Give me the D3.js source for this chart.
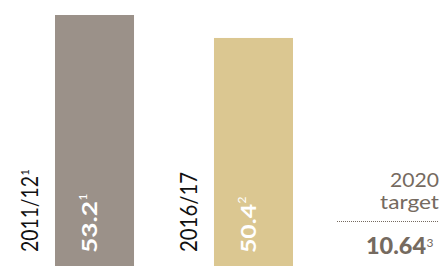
<!DOCTYPE html>
<html><head><meta charset="utf-8">
<script src="https://cdn.jsdelivr.net/npm/d3@7"></script>
<style>
html,body{margin:0;padding:0;background:#fff;}
svg{display:block;}
</style></head>
<body>
<svg id="c" width="443" height="266"></svg>
<script>
// Data
const categories = ["2011/12", "2016/17"];
const values = [53.2, 50.4];
const valueNotes = ["1", "2"];
const categoryNotes = ["1", ""];
const targetLabel = ["2020", "target"];
const targetValue = 10.64;
const targetNote = "3";

const colors = ["#9b9189", "#dbc791"];
const textGrey = "#756a60";
const font = "Lato, 'Open Sans', sans-serif";

const W = 443, H = 266;
const svg = d3.select("#c");

const x = d3.scaleBand().domain(categories).range([55, 293]).paddingInner(0.503).paddingOuter(0);
const y = d3.scaleLinear().domain([22.6, 53.2]).range([H, 15]);

// bars
svg.selectAll("rect.bar").data(categories).join("rect")
  .attr("class", "bar")
  .attr("x", d => x(d))
  .attr("y", (d, i) => y(values[i]))
  .attr("width", x.bandwidth())
  .attr("height", (d, i) => H - y(values[i]))
  .attr("fill", (d, i) => colors[i]);

// category labels (rotated)
const catLen = [76, 80];
categories.forEach((c, i) => {
  const bx = x(c) - 17;
  const g = svg.append("g").attr("transform", `translate(${bx},252) rotate(-90)`);
  g.append("text").attr("x", 0).attr("y", 0)
    .attr("font-family", font).attr("font-size", 23).attr("fill", "#111")
    .attr("textLength", catLen[i]).attr("lengthAdjust", "spacingAndGlyphs")
    .text(c);
  if (categoryNotes[i]) {
    g.append("text").attr("x", catLen[i] + 0.5).attr("y", -9)
      .attr("font-family", font).attr("font-size", 11).attr("fill", "#111")
      .text(categoryNotes[i]);
  }
});

// value labels inside bars (rotated)
const valLen = [52, 49];
categories.forEach((c, i) => {
  const bx = x(c) + 42;
  const g = svg.append("g").attr("transform", `translate(${bx},253) rotate(-90)`);
  g.append("text").attr("x", 0).attr("y", 0)
    .attr("font-family", font).attr("font-size", 21).attr("font-weight", "bold").attr("fill", "#fff")
    .attr("textLength", valLen[i]).attr("lengthAdjust", "spacingAndGlyphs")
    .text(values[i].toFixed(1));
  g.append("text").attr("x", valLen[i] + 0.5).attr("y", -10)
    .attr("font-family", font).attr("font-size", 12).attr("fill", "#fff")
    .text(valueNotes[i]);
});

// target block
svg.append("text").attr("x", 439).attr("y", 187).attr("text-anchor", "end")
  .attr("font-family", font).attr("font-size", 20).attr("fill", textGrey)
  .attr("textLength", 49).attr("lengthAdjust", "spacingAndGlyphs").text(targetLabel[0]);
svg.append("text").attr("x", 439).attr("y", 209).attr("text-anchor", "end")
  .attr("font-family", font).attr("font-size", 20).attr("fill", textGrey)
  .attr("textLength", 59).attr("lengthAdjust", "spacingAndGlyphs").text(targetLabel[1]);
svg.append("line").attr("x1", 337).attr("x2", 439).attr("y1", 221.5).attr("y2", 221.5)
  .attr("stroke", textGrey).attr("stroke-width", 1).attr("stroke-dasharray", "1,1");
svg.append("text").attr("x", 426).attr("y", 254).attr("text-anchor", "end")
  .attr("font-family", font).attr("font-size", 22).attr("font-weight", "900").attr("fill", textGrey)
  .attr("textLength", 60).attr("lengthAdjust", "spacingAndGlyphs")
  .text(targetValue.toFixed(2));
svg.append("text").attr("x", 426.5).attr("y", 247)
  .attr("font-family", font).attr("font-size", 12).attr("fill", textGrey).text(targetNote);
</script>
</body></html>
